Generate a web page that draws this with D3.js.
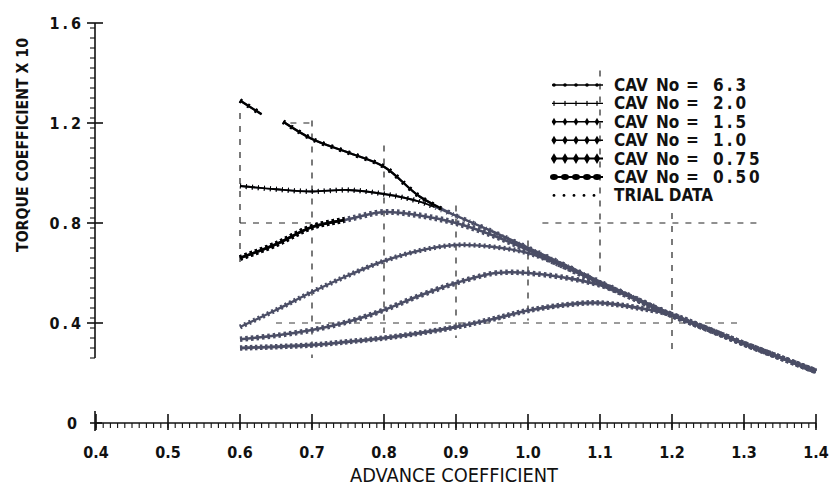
<!doctype html>
<html lang="en">
<head>
<meta charset="UTF-8">
<title>Torque coefficient</title>
<style>
  body { margin: 0; background: #fff; }
  text { font-family: 'DejaVu Sans Condensed', 'DejaVu Sans', sans-serif; fill: #111; }
</style>
</head>
<body>
<svg width="830" height="497"></svg>

<script src="https://d3js.org/d3.v7.min.js"></script>
<script>
// values (J, Kq x 10)
const cavNo = ['6.3', '2.0', '1.5', '1.0', '0.75', '0.50'];

const cav63 = [[0.6, 1.29], [0.63, 1.235], [0.645, null], [0.66, 1.205], [0.7, 1.136], [0.75, 1.082],
    [0.8, 1.025], [0.85, 0.905], [0.9, 0.83], [0.95, 0.768], [1.0, 0.702], [1.05, 0.635],
    [1.1, 0.566], [1.15, 0.5], [1.2, 0.436], [1.25, 0.378], [1.3, 0.32], [1.35, 0.265], [1.4, 0.21]];
const cav20 = [[0.6, 0.948], [0.65, 0.935], [0.7, 0.926], [0.75, 0.932], [0.8, 0.916], [0.85, 0.885],
    [0.9, 0.828], [0.95, 0.765], [1.0, 0.698], [1.05, 0.632], [1.1, 0.562], [1.15, 0.497],
    [1.2, 0.432], [1.25, 0.376], [1.3, 0.318], [1.35, 0.263], [1.4, 0.208]];
const cav15 = [[0.6, 0.66], [0.65, 0.715], [0.7, 0.784], [0.75, 0.815], [0.8, 0.844], [0.85, 0.83],
    [0.9, 0.8], [0.95, 0.752], [1.0, 0.692], [1.05, 0.627], [1.1, 0.559], [1.15, 0.495], [1.2, 0.431],
    [1.25, 0.375], [1.3, 0.317], [1.35, 0.262], [1.4, 0.207]];
const cav10 = [[0.6, 0.384], [0.65, 0.452], [0.7, 0.524], [0.75, 0.59], [0.8, 0.648], [0.85, 0.69],
    [0.9, 0.712], [0.95, 0.705], [1.0, 0.68], [1.05, 0.625], [1.1, 0.558], [1.15, 0.494], [1.2, 0.43],
    [1.25, 0.374], [1.3, 0.316], [1.35, 0.261], [1.4, 0.206]];
const cav075 = [[0.6, 0.335], [0.65, 0.35], [0.7, 0.372], [0.75, 0.405], [0.8, 0.452], [0.85, 0.51],
    [0.9, 0.56], [0.95, 0.598], [0.975, 0.603], [1.0, 0.6], [1.05, 0.582], [1.1, 0.552], [1.15, 0.494],
    [1.2, 0.43], [1.25, 0.374], [1.3, 0.316], [1.35, 0.261], [1.4, 0.206]];
const cav050 = [[0.6, 0.3], [0.65, 0.305], [0.7, 0.312], [0.75, 0.325], [0.8, 0.34], [0.85, 0.36],
    [0.9, 0.384], [0.95, 0.415], [1.0, 0.45], [1.05, 0.472], [1.09, 0.481], [1.12, 0.475], [1.15, 0.462],
    [1.2, 0.433], [1.25, 0.376], [1.3, 0.318], [1.35, 0.263], [1.4, 0.208]];
const seriesList = [cav63, cav20, cav15, cav10, cav075, cav050];

// dashed trial-data lines, [J1, Kq1, J2, Kq2]
const trialLines = [[0.6, 1.24, 0.6, 0.64], [0.7, 1.21, 0.7, 0.26], [0.8, 1.11, 0.8, 0.36],
    [0.9, 0.87, 0.9, 0.34], [1.0, 0.73, 1.0, 0.41], [1.1, 1.41, 1.1, 0.58], [1.2, 0.84, 1.2, 0.28],
    [0.67, 1.2, 0.7, 1.2], [0.6, 0.8, 0.7, 0.8], [1.02, 0.8, 1.32, 0.8], [0.65, 0.4, 1.3, 0.4]];

const xMajor = [0.4, 0.5, 0.6, 0.7, 0.8, 0.9, 1.0, 1.1, 1.2, 1.3, 1.4];
const xLabels = ['0.4', '0.5', '0.6', '0.7', '0.8', '0.9', '1.0', '1.1', '1.2', '1.3', '1.4'];
const yMajor = [0.4, 0.8, 1.2, 1.6];
const yLabels = ['0.4', '0.8', '1.2', '1.6'];

const svg = d3.select('svg');
const x = d3.scaleLinear().domain([0.4, 1.4]).range([96, 816]);
const y = d3.scaleLinear().domain([0, 1.6]).range([423, 23]);

const grey = '#4b4e66';
const inkUntil = [0.88, 0.87, 0.745, null, null, null];   // part of curve printed black
const styles = [
    { w: 2.2, bead: 4.5, dash: '2 7' },
    { w: 1.8, bead: 5, dash: '1 5' },
    { w: 2.6, bead: 6, dash: '2.5 3' },
    { w: 2.4, bead: 5, dash: '2 3' },
    { w: 2.6, bead: 5.5, dash: '2.5 3' },
    { w: 2.8, bead: 5.5, dash: '2.5 2.5' }
];

// trial data
svg.append('g').selectAll('line')
    .data(trialLines)
    .join('line')
    .attr('x1', d => x(d[0])).attr('y1', d => y(d[1]))
    .attr('x2', d => x(d[2])).attr('y2', d => y(d[3]))
    .attr('stroke', '#222')
    .attr('stroke-width', d => d[1] === 0.4 ? 0.9 : 1.2)
    .attr('stroke-dasharray', '6 7');

const line = d3.line()
    .defined(d => d[1] != null)
    .x(d => x(d[0]))
    .y(d => y(d[1]))
    .curve(d3.curveCatmullRom.alpha(0.5));

const defs = svg.append('defs');
const curves = svg.append('g');

// draw from the lowest curve up
for (let i = seriesList.length - 1; i >= 0; i--) {
    const s = styles[i];
    const g = curves.append('g');
    const draw = (parent, colour) => {
        parent.append('path').attr('d', line(seriesList[i]))
            .attr('fill', 'none').attr('stroke', colour).attr('stroke-width', s.w);
        parent.append('path').attr('d', line(seriesList[i]))
            .attr('fill', 'none').attr('stroke', colour).attr('stroke-width', s.bead)
            .attr('stroke-dasharray', s.dash);
    };
    draw(g, grey);
    if (inkUntil[i]) {
        defs.append('clipPath').attr('id', 'ink' + i)
            .append('rect')
            .attr('x', x(0.55)).attr('y', 0)
            .attr('width', x(inkUntil[i]) - x(0.55)).attr('height', 497);
        draw(g.append('g').attr('clip-path', `url(#ink${i})`), '#000');
    }
}

// axes
const ax = svg.append('g').attr('stroke', '#111').attr('stroke-width', 1.6);
ax.append('line').attr('x1', x(0.4)).attr('x2', x(1.4)).attr('y1', y(0)).attr('y2', y(0));
ax.selectAll('.xmin').data(d3.range(40, 141).map(v => v / 100))
    .join('line')
    .attr('x1', d => x(d)).attr('x2', d => x(d))
    .attr('y1', y(0)).attr('y2', y(0) + 5)
    .attr('stroke-width', 1.1);
ax.selectAll('.xmaj').data(xMajor)
    .join('line')
    .attr('x1', d => x(d)).attr('x2', d => x(d))
    .attr('y1', y(0) - 9).attr('y2', y(0) + 7);

ax.append('line').attr('x1', x(0.4) - 1).attr('x2', x(0.4) - 1).attr('y1', y(1.6)).attr('y2', y(0.26));
ax.append('line').attr('x1', x(0.4) - 1).attr('x2', x(0.4) - 1).attr('y1', y(0) - 12).attr('y2', y(0) + 8);
ax.selectAll('.ymin').data(d3.range(26, 161, 4).map(v => v / 100))
    .join('line')
    .attr('x1', x(0.4) - 6).attr('x2', x(0.4) - 1)
    .attr('y1', d => y(d)).attr('y2', d => y(d))
    .attr('stroke-width', 1.1);
ax.selectAll('.ymaj').data(yMajor)
    .join('line')
    .attr('x1', x(0.4) - 9).attr('x2', x(0.4) + 7)
    .attr('y1', d => y(d)).attr('y2', d => y(d));
ax.append('line').attr('x1', x(0.4) - 6).attr('x2', x(0.4) + 6).attr('y1', y(0)).attr('y2', y(0));

svg.append('g').selectAll('text').data(xMajor)
    .join('text')
    .attr('x', d => x(d)).attr('y', 458)
    .attr('text-anchor', 'middle')
    .attr('font-size', 16).attr('font-weight', 'bold')
    .text((d, i) => xLabels[i]);

svg.append('g').selectAll('text').data(yMajor)
    .join('text')
    .attr('x', 84).attr('y', d => y(d) + 6)
    .attr('text-anchor', 'end')
    .attr('font-size', 16).attr('font-weight', 'bold')
    .attr('letter-spacing', 3)
    .text((d, i) => yLabels[i]);
svg.append('text').attr('x', 77).attr('y', y(0) + 6).attr('text-anchor', 'end')
    .attr('font-size', 16).attr('font-weight', 'bold').text('0');

svg.append('text')
    .attr('x', 454).attr('y', 482)
    .attr('text-anchor', 'middle')
    .attr('font-size', 19)
    .attr('textLength', 208).attr('lengthAdjust', 'spacingAndGlyphs')
    .text('ADVANCE COEFFICIENT');

svg.append('text')
    .attr('transform', 'translate(28,145) rotate(-90)')
    .attr('text-anchor', 'middle')
    .attr('font-size', 16).attr('font-weight', 'bold')
    .attr('textLength', 214).attr('lengthAdjust', 'spacingAndGlyphs')
    .text('TORQUE COEFFICIENT X 10');

// legend
const legend = svg.append('g');
const rowY = i => 85 + i * 18.4;
const markX = [554, 565, 576, 587, 597];
const shapes = [
    g => g.append('circle').attr('r', 1.8),
    g => g.append('rect').attr('x', -0.6).attr('y', -2.5).attr('width', 1.2).attr('height', 5),
    g => g.append('path').attr('d', d3.symbol(d3.symbolDiamond, 18)),
    g => g.append('path').attr('d', d3.symbol(d3.symbolDiamond, 24)),
    g => g.append('path').attr('d', d3.symbol(d3.symbolDiamond, 34)),
    g => g.append('ellipse').attr('rx', 4).attr('ry', 3)
];
cavNo.forEach((c, i) => {
    const ry = rowY(i);
    legend.append('line').attr('x1', 552).attr('x2', 603).attr('y1', ry).attr('y2', ry)
        .attr('stroke', '#000').attr('stroke-width', i < 4 ? 1.4 : 2);
    markX.forEach(mx => {
        shapes[i](legend.append('g').attr('transform', `translate(${mx},${ry})`)).attr('fill', '#000');
    });
    const t = legend.append('g').attr('font-size', 17).attr('font-weight', 'bold');
    t.append('text').attr('x', 614).attr('y', ry + 6).text('CAV');
    t.append('text').attr('x', 656).attr('y', ry + 6).text('No');
    t.append('text').attr('x', 686).attr('y', ry + 6).text('=');
    t.append('text').attr('x', 713).attr('y', ry + 6).attr('letter-spacing', 3).text(c);
});
const trialY = rowY(6);
legend.selectAll('.td').data([554, 564, 574, 584, 594])
    .join('circle').attr('cx', d => d).attr('cy', trialY).attr('r', 1.4).attr('fill', '#000');
legend.append('text').attr('x', 614).attr('y', trialY + 6)
    .attr('font-size', 17).attr('font-weight', 'bold').text('TRIAL DATA');
</script>
</body>
</html>
